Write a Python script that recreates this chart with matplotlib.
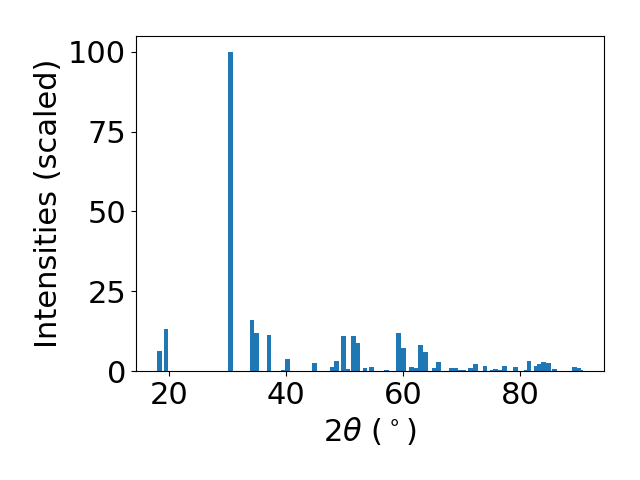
import matplotlib
matplotlib.use('Agg')
import matplotlib.pyplot as plt

# Peak positions (2theta, degrees) and scaled intensities
two_theta = [18.4, 19.5, 30.5, 34.2, 35.0, 37.1, 39.6, 40.2,
             44.9, 47.9, 48.6, 49.8, 50.5, 51.5, 52.2, 53.5, 54.6, 57.1,
             59.2, 60.1, 61.4, 62.3, 63.0, 63.8, 65.3, 66.0,
             68.2, 68.9, 69.6, 70.4, 71.5, 72.3, 74.0, 75.2, 75.8, 76.6,
             77.3, 79.2, 81.0, 81.5, 82.7, 83.3, 84.0, 84.8, 85.8,
             89.3, 89.9, 90.3]
intensity = [6.3, 13.2, 100.0, 16.0, 11.8, 11.4, 0.3, 3.8,
             2.5, 1.2, 3.3, 11.0, 0.5, 11.0, 8.8, 1.0, 1.3, 0.4,
             12.0, 7.2, 1.3, 1.0, 8.2, 6.0, 1.0, 2.7,
             0.9, 0.9, 0.3, 0.3, 0.9, 2.1, 1.5, 0.3, 0.6, 0.2,
             1.5, 1.2, 0.2, 3.0, 1.5, 2.1, 2.7, 2.4, 0.6,
             1.2, 0.8, 0.3]
y_ticks = [0, 25, 50, 75, 100]

plt.rcParams['font.size'] = 22

fig, ax = plt.subplots(figsize=(6.4, 4.8), dpi=100)
ax.bar(two_theta, intensity, width=0.8)
ax.set_yticks(y_ticks)
ax.set_xlabel(r'$2\theta$ ($^\circ$)')
ax.set_ylabel('Intensities (scaled)')
fig.subplots_adjust(left=0.2125, right=0.944, bottom=0.227, top=0.925)
fig.savefig('out.png')
